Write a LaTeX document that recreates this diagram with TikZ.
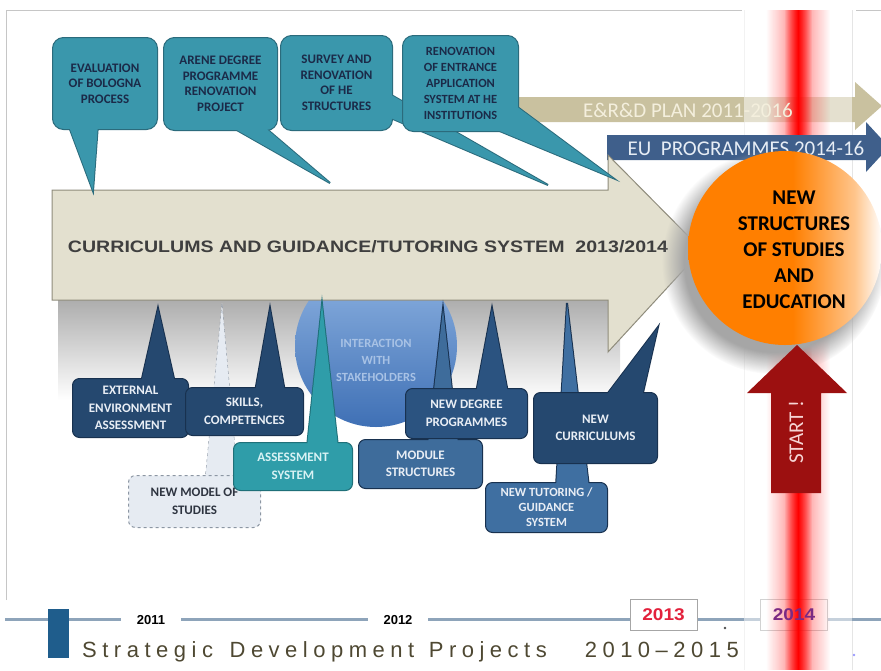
\documentclass[tikz,border=0pt]{standalone}
\usepackage{fontspec}
\usepackage{graphicx}
\setmainfont{Carlito}
\newfontfamily\arialfont{Liberation Sans}
\newfontfamily\spacedfont[LetterSpace=25]{Liberation Sans}
\usetikzlibrary{fadings}
\definecolor{topfill}{HTML}{3A97AC}
\definecolor{topbd}{HTML}{2B6B7C}
\definecolor{toptxt}{HTML}{1B2A48}
\definecolor{navy}{HTML}{25486F}
\definecolor{navybd}{HTML}{18314F}
\definecolor{navytxt}{HTML}{E9EEF5}
\definecolor{degree}{HTML}{2B5380}
\definecolor{module}{HTML}{3E6C9B}
\definecolor{tutor}{HTML}{3F6FA1}
\definecolor{assessfill}{HTML}{2F9DA9}
\definecolor{assessbd}{HTML}{1F7079}
\definecolor{assesstxt}{HTML}{D8F2F4}
\definecolor{modelfill}{HTML}{E6EBF2}
\definecolor{modelbd}{HTML}{8C96A3}
\definecolor{modeltxt}{HTML}{2E3440}
\definecolor{arrowfill}{HTML}{E3E0CF}
\definecolor{arrowbd}{HTML}{8F8C7C}
\definecolor{arrowtxt}{HTML}{3F3F3F}
\definecolor{erdfill}{HTML}{C9C19F}
\definecolor{erdtxt}{HTML}{F4EFDD}
\definecolor{eufill}{HTML}{3F5F8B}
\definecolor{eutxt}{HTML}{E6EDF5}
\definecolor{orgc}{HTML}{FF7F00}
\definecolor{startfill}{HTML}{9C1010}
\definecolor{starttxt}{HTML}{F6D5D5}
\definecolor{tlline}{HTML}{8EA4BA}
\definecolor{ytr}{HTML}{E3213C}
\definecolor{yfr}{HTML}{7B2A83}
\definecolor{bottomtxt}{HTML}{4E4832}
\definecolor{sqblue}{HTML}{1F5D8C}
\definecolor{inttop}{HTML}{8DB2E1}
\definecolor{intbot}{HTML}{3F70B5}
\definecolor{inttxt}{HTML}{A8C2E5}
\tikzfading[name=fadelr, left color=transparent!100, right color=transparent!100, middle color=transparent!0]
\pgfdeclarehorizontalshading{orangefade}{100bp}{color(0bp)=(orgc); color(25bp)=(orgc); color(52bp)=(orgc); color(68bp)=(orgc!45!white); color(75bp)=(white); color(100bp)=(white)}
\begin{document}
\begin{tikzpicture}[x=1pt,y=-1pt,
  tailbd/.style={line width=2pt, line join=miter},
  topbox/.style={anchor=north west, rounded corners=11pt, draw=topbd, fill=topfill, line width=1pt, text=toptxt, align=center, inner sep=0pt, font=\bfseries\fontsize{13}{15.5}\selectfont},
  botbox/.style={anchor=north west, rounded corners=7pt, line width=1pt, align=center, inner sep=0pt, font=\bfseries\fontsize{13}{17.5}\selectfont},
  navybox/.style={botbox, draw=navybd, fill=navy, text=navytxt},
  yearlbl/.style={fill=white, inner xsep=16pt, inner ysep=2pt, font=\arialfont\bfseries\fontsize{13}{13}\selectfont},
  yearbox/.style={draw=gray!70, fill=white, minimum width=67pt, minimum height=31pt, inner sep=0pt}
]
\useasboundingbox (0,0) rectangle (881,670);
\clip (0,0) rectangle (881,670);
% frame
\draw[gray!45, line width=0.8pt] (6,600) -- (6,10) -- (742,10);
\draw[gray!45, line width=0.8pt] (856,10) -- (881,10);
\draw[gray!20, line width=0.8pt] (744,10) -- (744,670);
\draw[gray!20, line width=0.8pt] (852,10) -- (852,670);
% E&R&D arrow body
\fill[erdfill] (515,97) -- (855,97) -- (855,82) -- (882,106) -- (855,130) -- (855,122) -- (515,122) -- cycle;
% timeline
\draw[tlline, line width=3pt] (5,619) -- (881,619);
\node[yearlbl] (y2011) at (151,620) {2011};
\node[yearlbl] (y2012) at (398,620) {2012};
\node[yearbox, text=ytr, font=\arialfont\bfseries\fontsize{17}{17}\selectfont] (y2013) at (663.5,614.5) {\scalebox{1.12}[1]{2013}};
\node[yearbox] (y2014) at (794,614.5) {};
\fill[black!70] (725,628) circle (1.4pt);
\fill[blue!40] (854,655) circle (1.4pt);
\fill[sqblue] (48,609) rectangle (69,658);
\node[anchor=base west, inner sep=0pt, text=bottomtxt, font=\spacedfont\fontsize{22}{22}\selectfont] (title) at (82,657) {Strategic\hspace{5pt} Development\hspace{3pt} Projects\hspace{38pt}2010–2015};
% white band and red glow
\fill[white, opacity=0.5] (744,10) rectangle (852,670);
\fill[red, opacity=0.5, path fading=fadelr] (766,10) rectangle (830,670);
\fill[red, path fading=fadelr] (784,10) rectangle (812,670);
\node[text=yfr, font=\arialfont\bfseries\fontsize{17}{17}\selectfont] (y2014t) at (y2014.center) {\scalebox{1.12}[1]{2014}};
\node[text=erdtxt, font=\fontsize{21}{21}\selectfont] (erdtext) at (688,110) {E\&R\&D PLAN 2011-2016};
% EU arrow
\fill[eufill] (607,135) -- (866,135) -- (866,122) -- (889,147) -- (866,172) -- (866,160) -- (607,160) -- cycle;
\node[text=eutxt, font=\fontsize{21}{21}\selectfont] (eutext) at (746,148) {EU\ \ PROGRAMMES 2014-16};
% shadow under main arrow, interaction circle
\shade[top color=black!32, bottom color=white] (58,300) rectangle (620,400);
\node[circle, minimum size=162pt, inner sep=0pt, top color=inttop, bottom color=intbot] (interact) at (376,346) {};
\node[text=inttxt, font=\bfseries\fontsize{12.5}{17}\selectfont, align=center] (inttext) at (376,360) {INTERACTION\\WITH\\STAKEHOLDERS};
% main arrow
\filldraw[fill=arrowfill, draw=arrowbd, line width=1pt] (52,190) -- (608,190) -- (608,155) -- (702,250) -- (608,352) -- (608,300) -- (52,300) -- cycle;
\node[text=arrowtxt] (maintext) at (368,247) {\resizebox{600pt}{12pt}{\arialfont\bfseries CURRICULUMS AND GUIDANCE/TUTORING SYSTEM\ \ 2013/2014}};
% top callouts
\draw[tailbd, topbd] (68,124) -- (93,191) -- (98,124);
\node[topbox, minimum width=105pt, minimum height=92pt] (eval) at (52,37) {EVALUATION\\OF BOLOGNA\\PROCESS};
\fill[topfill] (68,124) -- (93,191) -- (98,124) -- cycle;
\draw[tailbd, topbd] (228,125) -- (330,183) -- (262,125);
\node[topbox, minimum width=114pt, minimum height=93pt] (arene) at (163,37) {ARENE DEGREE\\PROGRAMME\\RENOVATION\\PROJECT};
\fill[topfill] (228,125) -- (330,183) -- (262,125) -- cycle;
\draw[tailbd, topbd] (386,92) -- (548,185) -- (386,116);
\node[topbox, minimum width=112pt, minimum height=95pt] (survey) at (280,35) {SURVEY AND\\RENOVATION\\OF HE\\STRUCTURES};
\fill[topfill] (386,92) -- (548,185) -- (386,116) -- cycle;
\draw[tailbd, topbd] (508,100) -- (613,178) -- (490,127);
\node[topbox, minimum width=116pt, minimum height=96pt, font=\bfseries\fontsize{12.5}{16}\selectfont] (renov) at (402,35) {RENOVATION\\OF ENTRANCE\\APPLICATION\\SYSTEM AT HE\\INSTITUTIONS};
\fill[topfill] (508,100) -- (613,178) -- (490,127) -- cycle;
% orange circle and start arrow
\fill[black!35, path fading=circle with fuzzy edge 20 percent] (774,262) circle (112pt);
\node[circle, minimum size=194pt, inner sep=0pt, shade, shading=orangefade] (newstruct) at (785,248) {};
\node[align=center, font=\bfseries\fontsize{21}{26}\selectfont, text=black] (nstext) at (794,250) {NEW\\STRUCTURES\\OF STUDIES\\AND\\EDUCATION};
\fill[startfill] (797,345) -- (847,393) -- (821,393) -- (821,493) -- (771,493) -- (771,393) -- (747,393) -- cycle;
\node[rotate=90, text=starttxt, font=\fontsize{21}{21}\selectfont] (starttext) at (796,432) {START !};
% bottom callouts
\fill[modelfill] (205,480) -- (222,303) -- (238,480) -- cycle;
\draw[modelbd, dashed] (205,480) -- (222,303) -- (238,480);
\node[botbox, draw=modelbd, dashed, fill=modelfill, text=modeltxt, minimum width=132pt, minimum height=52pt] (newmodel) at (128,475) {NEW MODEL OF\\STUDIES};
\draw[tailbd, navybd] (141,383) -- (158,308) -- (175,383);
\node[navybox, minimum width=116pt, minimum height=59pt] (external) at (72,378) {EXTERNAL\\ENVIRONMENT\\ASSESSMENT};
\fill[navy] (141,383) -- (158,308) -- (175,383) -- cycle;
\draw[tailbd, navybd] (255,392) -- (270,308) -- (285,392);
\node[navybox, minimum width=118pt, minimum height=48pt] (skills) at (185,387) {SKILLS,\\COMPETENCES};
\fill[navy] (255,392) -- (270,308) -- (285,392) -- cycle;
\draw[tailbd, assessbd] (307,447) -- (322,304) -- (338,447);
\node[botbox, draw=assessbd, fill=assessfill, text=assesstxt, minimum width=119pt, minimum height=48pt] (assess) at (233,442) {ASSESSMENT\\SYSTEM};
\fill[assessfill] (307,447) -- (322,304) -- (338,447) -- cycle;
\draw[tailbd, navybd] (428,444) -- (443,309) -- (458,444);
\node[botbox, draw=navybd, fill=module, text=navytxt, minimum width=124pt, minimum height=49pt] (modules) at (358,439) {MODULE\\STRUCTURES};
\fill[module] (428,444) -- (443,309) -- (458,444) -- cycle;
\draw[tailbd, navybd] (476,393) -- (492,308) -- (508,393);
\node[botbox, draw=navybd, fill=degree, text=navytxt, minimum width=122pt, minimum height=50pt] (newdegree) at (405,388) {NEW DEGREE\\PROGRAMMES};
\fill[degree] (476,393) -- (492,308) -- (508,393) -- cycle;
\draw[tailbd, navybd] (556,487) -- (567,303) -- (589,487);
\node[botbox, draw=navybd, fill=tutor, text=navytxt, minimum width=122pt, minimum height=50pt, font=\bfseries\fontsize{12.5}{15}\selectfont] (tutoring) at (485,482) {NEW TUTORING /\\GUIDANCE\\SYSTEM};
\fill[tutor] (556,487) -- (567,303) -- (589,487) -- cycle;
\draw[tailbd, navybd] (605,397) -- (658,327) -- (642,397);
\node[navybox, minimum width=124pt, minimum height=71pt] (curric) at (533,392) {NEW\\CURRICULUMS};
\fill[navy] (605,397) -- (658,327) -- (642,397) -- cycle;
\end{tikzpicture}
\end{document}
